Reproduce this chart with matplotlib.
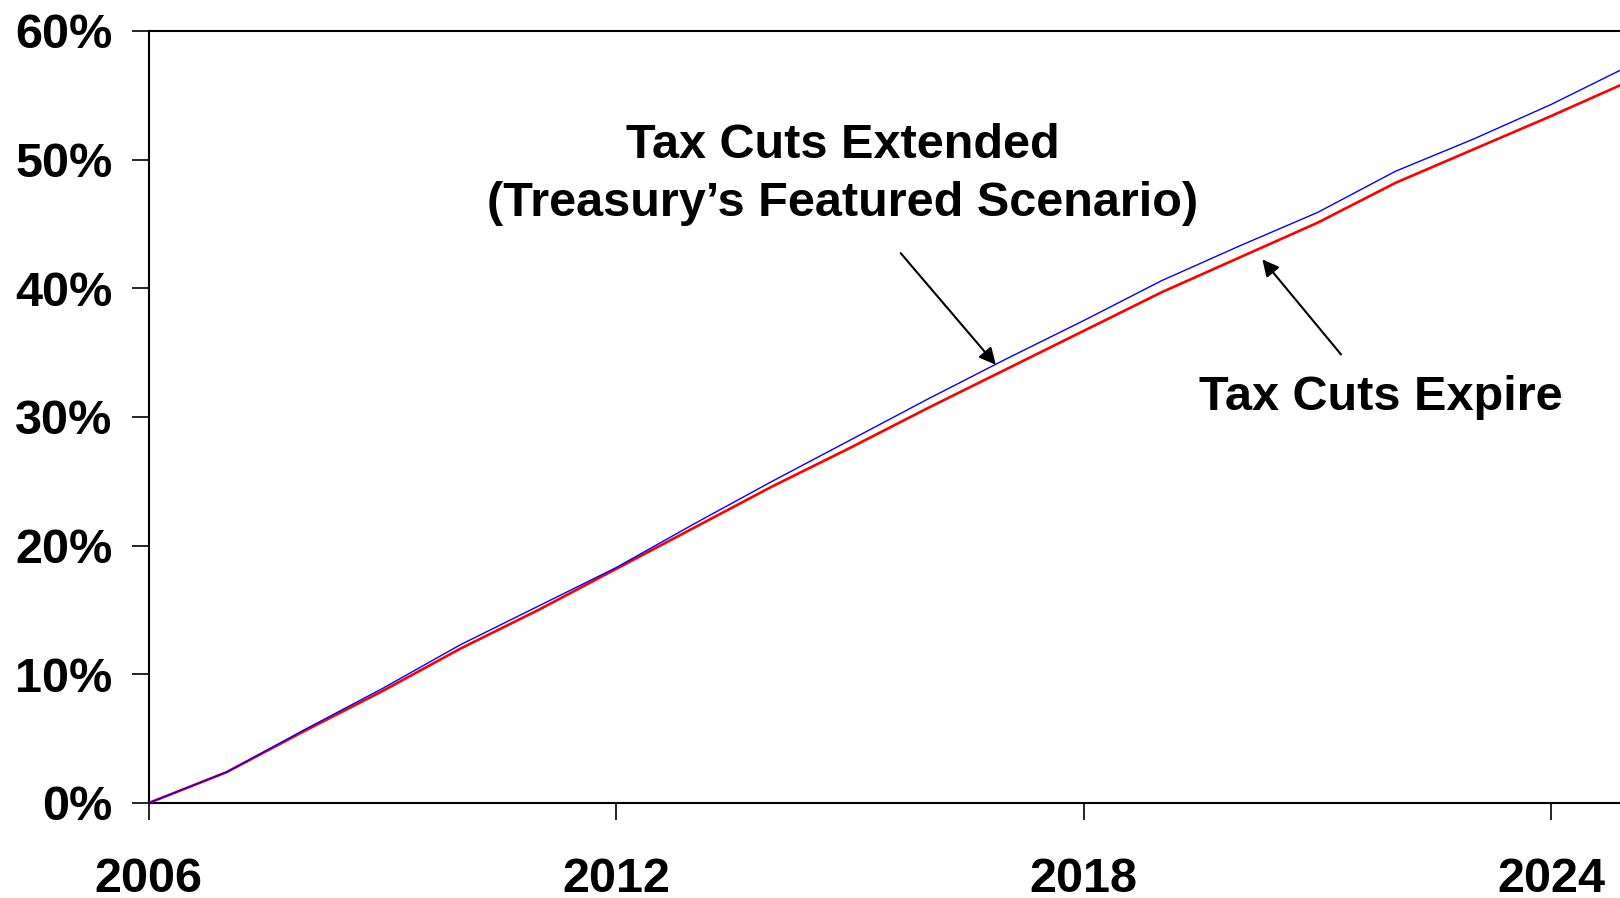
import matplotlib
matplotlib.use("Agg")
import matplotlib.pyplot as plt

years = [2006, 2007, 2008, 2009, 2010, 2011, 2012, 2013, 2014, 2015, 2016,
         2017, 2018, 2019, 2020, 2021, 2022, 2023, 2024, 2025]
extended = [0.0, 2.4, 5.7, 8.9, 12.3, 15.3, 18.3, 21.7, 25.0, 28.2, 31.4,
            34.5, 37.5, 40.6, 43.3, 45.9, 49.1, 51.6, 54.3, 57.3]
expire = [0.0, 2.4, 5.6, 8.7, 12.0, 15.0, 18.2, 21.4, 24.6, 27.6, 30.7,
          33.7, 36.7, 39.7, 42.4, 45.1, 48.2, 50.8, 53.4, 56.1]
x_ticks = [2006, 2012, 2018, 2024]
y_ticks = [0, 10, 20, 30, 40, 50, 60]
y_labels = ["0%", "10%", "20%", "30%", "40%", "50%", "60%"]

plt.rcParams['font.family'] = ['Liberation Sans', 'DejaVu Sans']
plt.rcParams['font.weight'] = 'bold'

fig = plt.figure(figsize=(16.2, 8.98), dpi=100)
ax = fig.add_axes([0.0918, 0.1058, 1.0 - 0.0918, 0.9655 - 0.1058])

ax.plot(years, expire, color='#ff0000', lw=1.9, zorder=3)
ax.plot(years, extended, color='#0000ff', lw=1.0, zorder=4)

ax.set_xlim(2006, 2024.88)
ax.set_ylim(0, 60)
ax.set_xticks(x_ticks)
ax.set_xticklabels([str(v) for v in x_ticks])
ax.set_yticks(y_ticks)
ax.set_yticklabels(y_labels)

for s in ['left', 'bottom', 'top']:
    ax.spines[s].set_linewidth(1.5)
    ax.spines[s].set_color('black')
ax.spines['right'].set_visible(False)

ax.tick_params(axis='both', direction='out', width=1.2, length=12,
               labelsize=35, color='black')
ax.tick_params(axis='x', pad=27)
ax.tick_params(axis='y', pad=14)
for lab in ax.get_xticklabels() + ax.get_yticklabels():
    lab.set_fontweight('bold')

fs = 35
ax.text(2014.91, 51.1, "Tax Cuts Extended", ha='center', va='center',
        fontsize=fs, fontweight='bold')
ax.text(2014.91, 46.6, "(Treasury\u2019s Featured Scenario)", ha='center',
        va='center', fontsize=fs, fontweight='bold')
ax.text(2021.81, 31.5, "Tax Cuts Expire", ha='center', va='center',
        fontsize=fs, fontweight='bold')

arrowprops = dict(arrowstyle='-|>', color='black', lw=1.5,
                  mutation_scale=25, shrinkA=0, shrinkB=0)
ax.annotate("", xy=(2016.87, 34.06), xytext=(2015.65, 42.73),
            arrowprops=arrowprops)
ax.annotate("", xy=(2020.29, 42.25), xytext=(2021.30, 34.86),
            arrowprops=arrowprops)

fig.savefig("out.png", dpi=100)
